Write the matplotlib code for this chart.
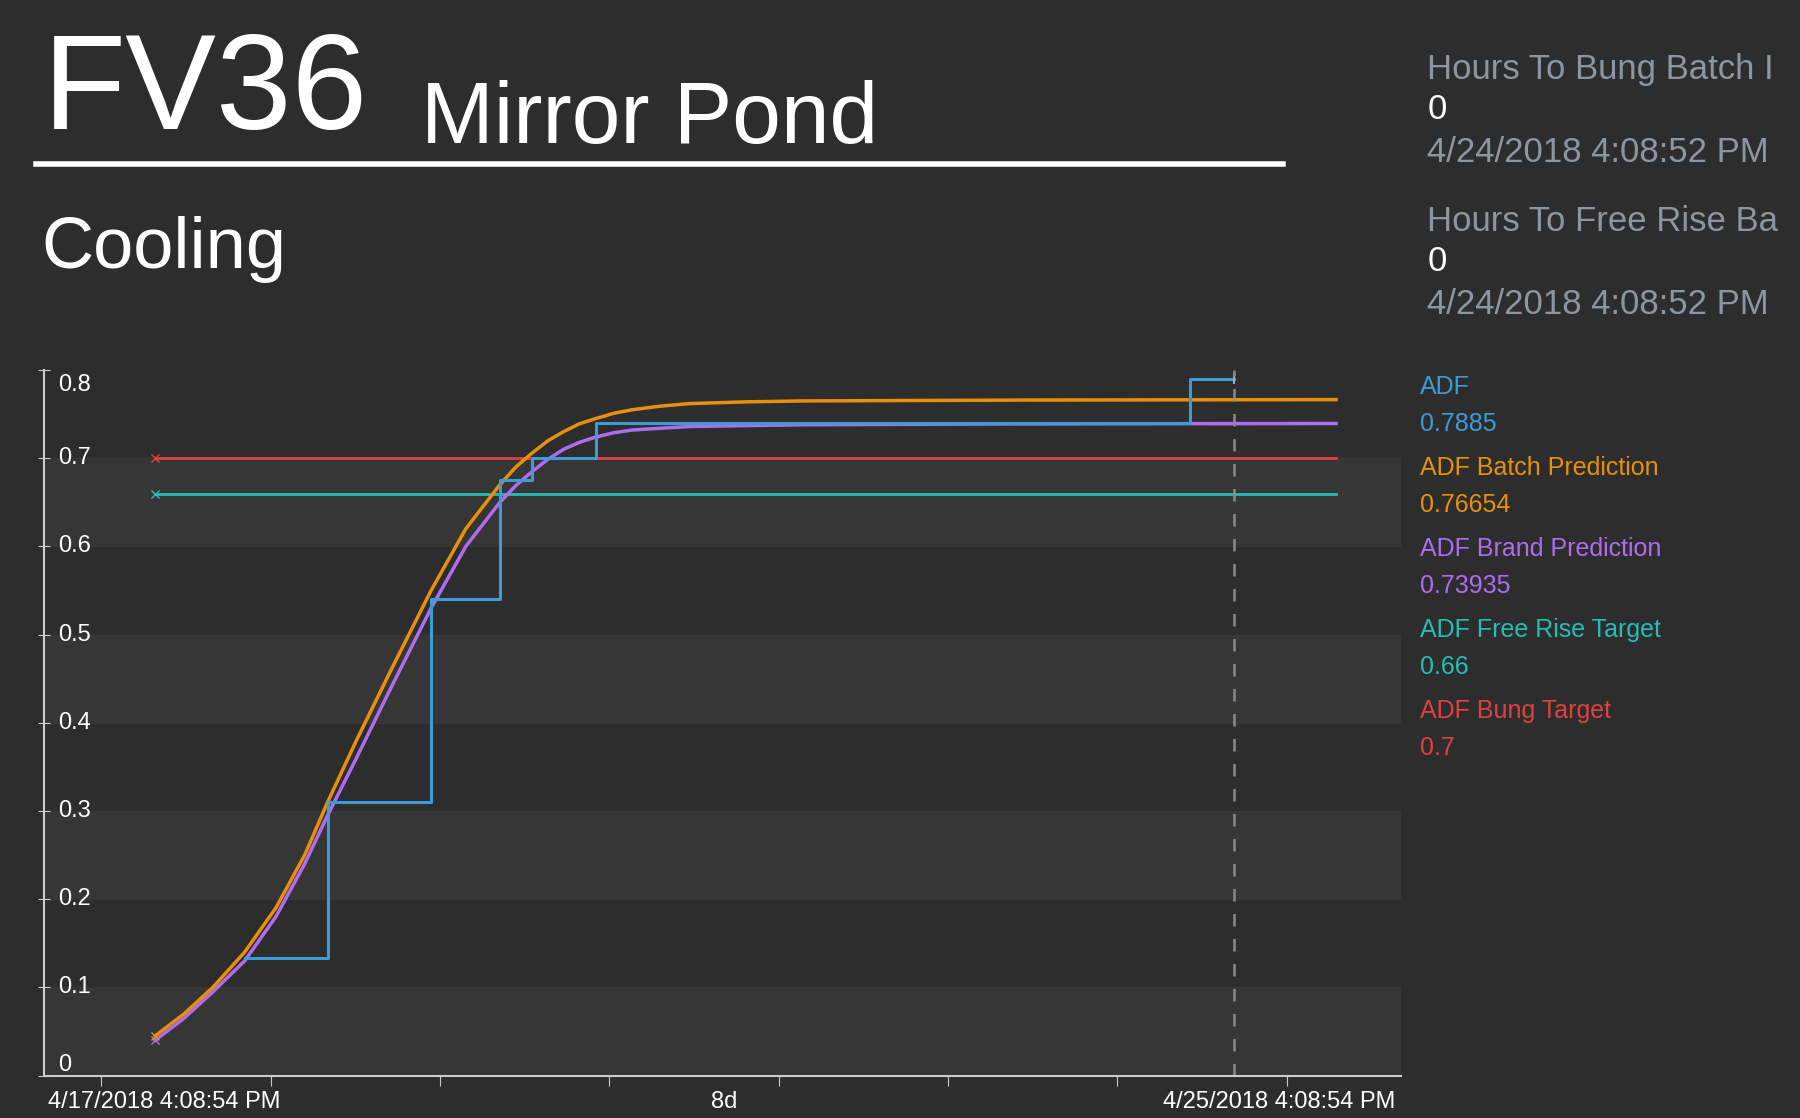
import matplotlib
matplotlib.use("Agg")
import matplotlib.pyplot as plt
from matplotlib.lines import Line2D

plt.rcParams['font.family'] = ['Liberation Sans', 'DejaVu Sans']

curve_hours = [9.2, 14.1, 19.0, 24.4, 29.7, 34.6, 38.5, 43.4, 49.3, 56.1, 62.0, 67.8, 70.5, 73.3, 76.0, 78.6, 81.3, 84.1, 87.2, 90.3, 95.0, 100.1, 110.0, 119.6, 158.7, 210.0]
batch_pred = [.045, .07, .10, .14, .19, .25, .31, .38, .46, .55, .62, .67, .69, .706, .72, .73, .739, .745, .751, .755, .759, .762, .764, .765, .766, .7665]
brand_pred = [.04, .065, .095, .13, .18, .24, .295, .36, .44, .53, .60, .65, .669, .685, .699, .71, .718, .724, .729, .732, .734, .736, .737, .738, .739, .7394]
adf_hours = [24.4, 38.5, 56.1, 67.8, 73.3, 84.1, 185.1, 192.6]
adf_vals = [0.133, 0.31, 0.54, 0.675, 0.70, 0.74, 0.79, 0.79]
target_hours = [9.2, 210.0]
free_rise = 0.66
bung = 0.70
now_hour = 192.6

legend_names = ["ADF", "ADF Batch Prediction", "ADF Brand Prediction", "ADF Free Rise Target", "ADF Bung Target"]
legend_vals = ["0.7885", "0.76654", "0.73935", "0.66", "0.7"]
colors = ["#3d9bd6", "#e8900c", "#b06cf0", "#26bdb6", "#e0413f"]

bg = "#2d2d2d"
fig = plt.figure(figsize=(18, 11.18), dpi=100, facecolor=bg)
ax = fig.add_axes([0.0242, 0.038, 0.754, 0.631], facecolor=bg)
ax.set_xlim(-9.8, 221)
ax.set_ylim(0, 0.8)
for k in range(0, 8, 2):
    ax.axhspan(k / 10, k / 10 + 0.1, color="#363636", zorder=0)

ax.plot(target_hours, [bung, bung], color=colors[4], lw=2, marker='x', markevery=[0], ms=6)
ax.plot(target_hours, [free_rise, free_rise], color=colors[3], lw=2, marker='x', markevery=[0], ms=6)
ax.plot(curve_hours, brand_pred, color=colors[2], lw=2.5, marker='x', markevery=[0], ms=6)
ax.plot(curve_hours, batch_pred, color=colors[1], lw=2.5, marker='x', markevery=[0], ms=6)
ax.step(adf_hours, adf_vals, where='post', color=colors[0], lw=2.2)
ax.plot([adf_hours[-1]] * 2, [0.785, 0.795], color="#aaaaaa", lw=1.5)
ax.axvline(now_hour, color="#8a8a8a", lw=1.8, ls=(0, (5, 5)))

for s in ["top", "right"]:
    ax.spines[s].set_visible(False)
for s in ["left", "bottom"]:
    ax.spines[s].set_color("#cccccc")
    ax.spines[s].set_linewidth(1.5)
ax.set_yticks([i / 10 for i in range(9)])
ax.set_yticklabels([])
ax.tick_params(axis='y', direction='inout', length=8, color="#cccccc")
for i in range(9):
    y = i / 10
    yy = min(max(y, 0.012), 0.783)
    ax.text(0.011, yy, "0" if i == 0 else f"{y:.1f}", transform=ax.get_yaxis_transform(),
            color="white", fontsize=17, va='center', ha='left')
ax.set_xticks([28.8 * k for k in range(8)])
ax.set_xticklabels([])
ax.tick_params(axis='x', direction='out', length=7, color="#cccccc")
ax.text(-9.0, -0.018, "4/17/2018 4:08:54 PM", color="white", fontsize=17, va='top', ha='left')
ax.text(106, -0.018, "8d", color="white", fontsize=17, va='top', ha='center')
ax.text(220, -0.018, "4/25/2018 4:08:54 PM", color="white", fontsize=17, va='top', ha='right')

fig.text(0.024, 0.885, "FV36", color="white", fontsize=98, va='baseline')
fig.text(0.234, 0.872, "Mirror Pond", color="white", fontsize=63, va='baseline')
fig.add_artist(Line2D([0.020, 0.713], [0.853, 0.853], color="white", lw=4))
fig.text(0.023, 0.760, "Cooling", color="white", fontsize=52, va='baseline')

gray = "#8b96a3"
right_lines = [("Hours To Bung Batch I", gray, 0.938), ("0", "white", 0.902),
               ("4/24/2018 4:08:52 PM", gray, 0.864), ("Hours To Free Rise Ba", gray, 0.802),
               ("0", "white", 0.766), ("4/24/2018 4:08:52 PM", gray, 0.728)]
for t, c, y in right_lines:
    fig.text(0.793, y, t, color=c, fontsize=25, va='center')

for i, (n, v) in enumerate(zip(legend_names, legend_vals)):
    y0 = 0.654 - i * 0.0725
    fig.text(0.789, y0, n, color=colors[i], fontsize=18, va='center')
    fig.text(0.789, y0 - 0.033, v, color=colors[i], fontsize=18, va='center')

fig.savefig("out.png", dpi=100, facecolor=bg)
